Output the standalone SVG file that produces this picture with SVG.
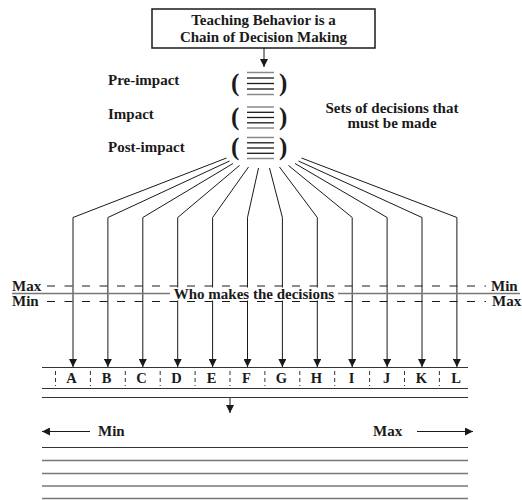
<svg xmlns="http://www.w3.org/2000/svg" width="522" height="500" viewBox="0 0 522 500">
<style>
text{font-family:"Liberation Serif","Times New Roman",serif;font-weight:bold;fill:#1a1a1a}
.t14{font-size:15px}
.lt{font-size:14.5px}
.par{font-size:25px;font-weight:bold}
.ln{stroke:#1a1a1a;stroke-width:1;fill:none}
.bl{stroke:#1a1a1a;stroke-width:1.3}
.bg{stroke:#8a8a8a;stroke-width:1.5}
.dash{stroke:#1a1a1a;stroke-width:1;stroke-dasharray:8 9.5;fill:none}
.sep{stroke:#333;stroke-width:1;stroke-dasharray:4 3}
.hl{stroke:#333;stroke-width:1.2}
.hg{stroke:#777;stroke-width:1.4}
</style>
<defs>
<marker id="ah" viewBox="0 0 10 10" refX="10" refY="5" markerWidth="8" markerHeight="8" markerUnits="userSpaceOnUse" orient="auto">
<path d="M0,0 L10,5 L0,10 z" fill="#1a1a1a"/>
</marker>
</defs>
<rect width="522" height="500" fill="#fff"/>

<g id="title">
<rect x="152" y="9" width="223" height="39" fill="#fff" stroke="#1a1a1a" stroke-width="1.5"/>
<text class="t14" x="263.5" y="25" text-anchor="middle">Teaching Behavior is a</text>
<text class="t14" x="263.5" y="41.5" text-anchor="middle">Chain of Decision Making</text>
</g>

<g id="pre-impact">
<text class="t14" x="108" y="85">Pre-impact</text>
<text class="par" x="231" y="91">(</text>
<text class="par" x="279" y="91">)</text>
<line class="bg" x1="247" y1="72.5" x2="274" y2="72.5"/>
<line class="bl" x1="247" y1="78" x2="274" y2="78"/>
<line class="bl" x1="247" y1="83.5" x2="274" y2="83.5"/>
<line class="bl" x1="247" y1="89" x2="274" y2="89"/>
<line class="bg" x1="247" y1="94.5" x2="274" y2="94.5"/>
</g>

<g id="impact">
<text class="t14" x="108" y="119">Impact</text>
<text class="par" x="231" y="124.5">(</text>
<text class="par" x="279" y="124.5">)</text>
<line class="bg" x1="247" y1="107" x2="274" y2="107"/>
<line class="bl" x1="247" y1="112.3" x2="274" y2="112.3"/>
<line class="bl" x1="247" y1="117.5" x2="274" y2="117.5"/>
<line class="bl" x1="247" y1="122.8" x2="274" y2="122.8"/>
<line class="bg" x1="247" y1="128" x2="274" y2="128"/>
</g>

<g id="post-impact">
<text class="t14" x="108" y="152">Post-impact</text>
<text class="par" x="231" y="155">(</text>
<text class="par" x="279" y="155">)</text>
<line class="bg" x1="247" y1="137.5" x2="274" y2="137.5"/>
<line class="bl" x1="247" y1="142.8" x2="274" y2="142.8"/>
<line class="bl" x1="247" y1="148" x2="274" y2="148"/>
<line class="bl" x1="247" y1="153.3" x2="274" y2="153.3"/>
<line class="bg" x1="247" y1="158.5" x2="274" y2="158.5"/>
</g>

<g id="sets-label">
<text class="t14" x="392" y="113" text-anchor="middle">Sets of decisions that</text>
<text class="t14" x="392" y="128" text-anchor="middle">must be made</text>
</g>

<g id="scale-labels">
<text class="t14" x="12" y="290.5">Max</text>
<text class="t14" x="12" y="305.5">Min</text>
<text class="t14" x="491" y="290.5">Min</text>
<text class="t14" x="492" y="305.5">Max</text>
</g>

<g id="connectors">
<line class="ln" x1="264" y1="48" x2="264" y2="67" marker-end="url(#ah)"/>
<polyline class="ln" points="226.5,158 73,217.5 73,367" marker-end="url(#ah)"/>
<polyline class="ln" points="229.5,161 107.9,217.5 107.9,367" marker-end="url(#ah)"/>
<polyline class="ln" points="233,163.5 142.8,217.5 142.8,367" marker-end="url(#ah)"/>
<polyline class="ln" points="239.5,165.5 177.7,217.5 177.7,367" marker-end="url(#ah)"/>
<polyline class="ln" points="248.5,167 212.6,217.5 212.6,367" marker-end="url(#ah)"/>
<polyline class="ln" points="258.5,168 247.5,217.5 247.5,367" marker-end="url(#ah)"/>
<polyline class="ln" points="269.5,168 282.4,217.5 282.4,367" marker-end="url(#ah)"/>
<polyline class="ln" points="279.5,167 317.3,217.5 317.3,367" marker-end="url(#ah)"/>
<polyline class="ln" points="288.5,165.5 352.2,217.5 352.2,367" marker-end="url(#ah)"/>
<polyline class="ln" points="295,163.5 387.1,217.5 387.1,367" marker-end="url(#ah)"/>
<polyline class="ln" points="298.5,161 422,217.5 422,367" marker-end="url(#ah)"/>
<polyline class="ln" points="301.5,158 456.9,217.5 456.9,367" marker-end="url(#ah)"/>
<line class="ln" x1="230" y1="397" x2="230" y2="413" marker-end="url(#ah)"/>
<line class="ln" x1="90" y1="431.5" x2="42" y2="431.5" marker-end="url(#ah)"/>
<line class="ln" x1="417" y1="431.5" x2="473" y2="431.5" marker-end="url(#ah)"/>
</g>

<g id="who-decides">
<line class="dash" x1="47" y1="286" x2="486" y2="286"/>
<line class="dash" x1="47" y1="301.5" x2="486" y2="301.5"/>
<line class="hg" x1="12" y1="293.5" x2="520" y2="293.5"/>
<rect x="170" y="287.5" width="168" height="13" fill="#fff"/>
<text class="t14" x="254" y="299" text-anchor="middle">Who makes the decisions</text>
</g>

<g id="letter-row">
<line class="hl" x1="42" y1="367.5" x2="468" y2="367.5"/>
<line class="hl" x1="42" y1="388.5" x2="468" y2="388.5"/>
<line class="hl" x1="42" y1="397.5" x2="468" y2="397.5"/>
<line class="sep" x1="55.5" y1="371" x2="55.5" y2="386"/>
<line class="sep" x1="90.4" y1="371" x2="90.4" y2="386"/>
<line class="sep" x1="125.3" y1="371" x2="125.3" y2="386"/>
<line class="sep" x1="160.2" y1="371" x2="160.2" y2="386"/>
<line class="sep" x1="195.1" y1="371" x2="195.1" y2="386"/>
<line class="sep" x1="230" y1="371" x2="230" y2="386"/>
<line class="sep" x1="264.9" y1="371" x2="264.9" y2="386"/>
<line class="sep" x1="299.8" y1="371" x2="299.8" y2="386"/>
<line class="sep" x1="334.7" y1="371" x2="334.7" y2="386"/>
<line class="sep" x1="369.6" y1="371" x2="369.6" y2="386"/>
<line class="sep" x1="404.5" y1="371" x2="404.5" y2="386"/>
<line class="sep" x1="439.4" y1="371" x2="439.4" y2="386"/>
<text class="lt" x="71.5" y="382.5" text-anchor="middle">A</text>
<text class="lt" x="106.5" y="382.5" text-anchor="middle">B</text>
<text class="lt" x="141.5" y="382.5" text-anchor="middle">C</text>
<text class="lt" x="176.5" y="382.5" text-anchor="middle">D</text>
<text class="lt" x="211.5" y="382.5" text-anchor="middle">E</text>
<text class="lt" x="246.5" y="382.5" text-anchor="middle">F</text>
<text class="lt" x="281.5" y="382.5" text-anchor="middle">G</text>
<text class="lt" x="316.5" y="382.5" text-anchor="middle">H</text>
<text class="lt" x="351.5" y="382.5" text-anchor="middle">I</text>
<text class="lt" x="386.5" y="382.5" text-anchor="middle">J</text>
<text class="lt" x="421.5" y="382.5" text-anchor="middle">K</text>
<text class="lt" x="456" y="382.5" text-anchor="middle">L</text>
</g>

<g id="range">
<text class="t14" x="98" y="436">Min</text>
<text class="t14" x="373" y="436">Max</text>
<line class="hl" x1="42" y1="447.5" x2="468" y2="447.5"/>
<line class="hg" x1="42" y1="460.5" x2="468" y2="460.5"/>
<line class="hg" x1="42" y1="473.5" x2="468" y2="473.5"/>
<line class="hg" x1="42" y1="486" x2="468" y2="486"/>
<line class="hg" x1="42" y1="498.5" x2="468" y2="498.5"/>
</g>
</svg>
